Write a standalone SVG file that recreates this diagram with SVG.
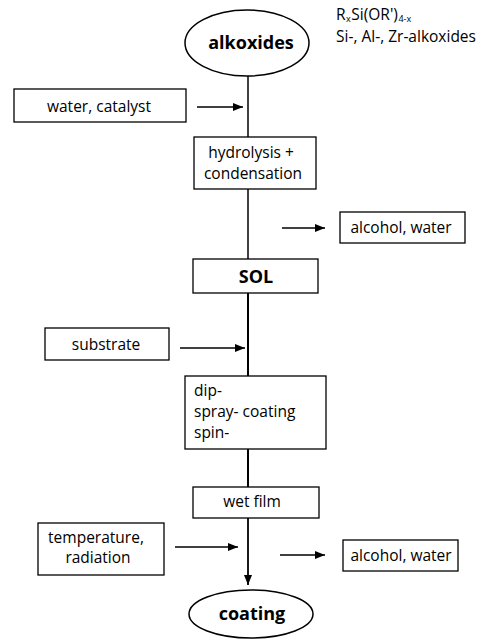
<svg xmlns="http://www.w3.org/2000/svg" width="490" height="643" viewBox="0 0 490 643">
<defs>
<marker id="ah" markerWidth="10" markerHeight="8" refX="10" refY="4" orient="auto" markerUnits="userSpaceOnUse">
<path d="M0,0 L10,4 L0,8 z" fill="#000"/>
</marker>
</defs>
<style>
.box{fill:#fff;stroke:#000;stroke-width:1.3}
.ell{fill:#fff;stroke:#000;stroke-width:1.5}
.t{font-family:"Open Sans","Liberation Sans",sans-serif;font-size:15.5px;fill:#000}
.b{font-family:"Open Sans","Liberation Sans",sans-serif;font-size:18px;font-weight:bold;fill:#000}
.c{text-anchor:middle}
.ln{stroke:#000;stroke-width:1.5;fill:none}
.ar{stroke:#000;stroke-width:1.3;fill:none;marker-end:url(#ah)}
</style>
<rect width="490" height="643" fill="#fff"/>
<g id="connectors">
<line class="ln" x1="248" y1="76" x2="248" y2="137"/>
<line class="ln" x1="248" y1="189" x2="248" y2="259"/>
<line class="ln" x1="248" y1="293" x2="248" y2="376" style="stroke-width:2"/>
<line class="ln" x1="248" y1="449" x2="248" y2="487" style="stroke-width:2"/>
<line class="ar" x1="248" y1="518" x2="248" y2="585" style="stroke-width:1.8"/>
<line class="ar" x1="197" y1="107" x2="243" y2="107"/>
<line class="ar" x1="282" y1="228" x2="325" y2="228"/>
<line class="ar" x1="180" y1="348" x2="245" y2="348"/>
<line class="ar" x1="175" y1="547" x2="238" y2="547"/>
<line class="ar" x1="280" y1="555" x2="325" y2="555"/>
</g>
<g id="alkoxides">
<ellipse class="ell" cx="247" cy="43" rx="62" ry="33"/>
<text class="b c" x="251" y="49">alkoxides</text>
</g>
<g id="alkoxide-note">
<text class="t" x="336" y="20">R<tspan font-size="9" dy="2" dx="0.5">x</tspan><tspan dy="-2" dx="0.5">Si(OR')</tspan><tspan font-size="9" dy="2" dx="0.5">4-x</tspan></text>
<text class="t" x="336" y="41.5">Si-, Al-, Zr-alkoxides</text>
</g>
<g id="water-catalyst">
<rect class="box" x="14" y="89" width="172" height="33"/>
<text class="t c" x="99" y="112">water, catalyst</text>
</g>
<g id="hydrolysis">
<rect class="box" x="194" y="137" width="122" height="52"/>
<text class="t c" x="251" y="158">hydrolysis +</text>
<text class="t c" x="253" y="179">condensation</text>
</g>
<g id="alcohol-water-1">
<rect class="box" x="340" y="212" width="125" height="31"/>
<text class="t c" x="401" y="233">alcohol, water</text>
</g>
<g id="sol">
<rect class="box" x="193" y="259" width="125" height="34"/>
<text class="b c" x="256" y="283">SOL</text>
</g>
<g id="substrate">
<rect class="box" x="45" y="328" width="124" height="32"/>
<text class="t c" x="106" y="350">substrate</text>
</g>
<g id="coating-methods">
<rect class="box" x="185" y="376" width="141" height="73"/>
<text class="t" x="194" y="396">dip-</text>
<text class="t" x="194" y="417">spray- coating</text>
<text class="t" x="194" y="438">spin-</text>
</g>
<g id="wet-film">
<rect class="box" x="193" y="487" width="126" height="31"/>
<text class="t c" x="252" y="507">wet film</text>
</g>
<g id="temperature">
<rect class="box" x="38" y="523" width="126" height="52"/>
<text class="t c" x="96" y="543">temperature,</text>
<text class="t c" x="98" y="563">radiation</text>
</g>
<g id="alcohol-water-2">
<rect class="box" x="343" y="540" width="115" height="31"/>
<text class="t c" x="401" y="561">alcohol, water</text>
</g>
<g id="coating">
<ellipse class="ell" cx="251" cy="614" rx="62" ry="24"/>
<text class="b c" x="252" y="620">coating</text>
</g>
</svg>
